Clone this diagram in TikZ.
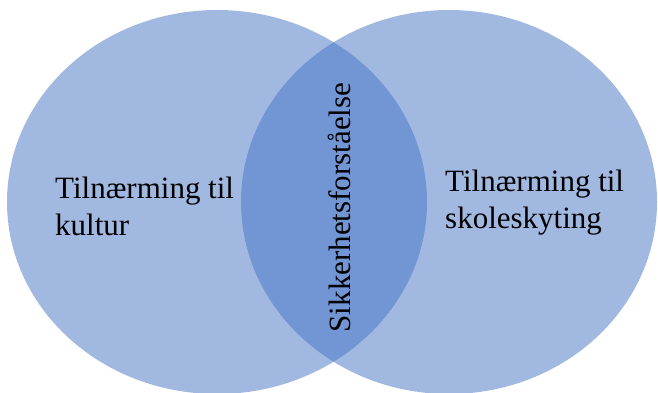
\documentclass[tikz,border=0pt]{standalone}
\usepackage{fontspec}
\setmainfont{Liberation Serif}
\definecolor{vennblue}{HTML}{4472C4}
\begin{document}
\begin{tikzpicture}[x=1pt,y=1pt,
  venn/.style={fill=vennblue,fill opacity=0.5,draw=none},
  lbl/.style={font=\fontsize{31}{37}\selectfont,inner sep=0pt,align=left,text=black}]
\useasboundingbox (0,0) rectangle (658,392);
\fill[venn] (217,190) ellipse [x radius=210, y radius=192];
\fill[venn] (449,190) ellipse [x radius=208, y radius=192];
\node[lbl,anchor=north west] (kultur) at (55,215) {Tilnærming til\\kultur};
\node[lbl,anchor=north west] (skole) at (445,222) {Tilnærming til\\skoleskyting};
\node[lbl,anchor=base,rotate=90] (sikker) at (350,184.5) {Sikkerhetsforståelse};
\end{tikzpicture}
\end{document}
